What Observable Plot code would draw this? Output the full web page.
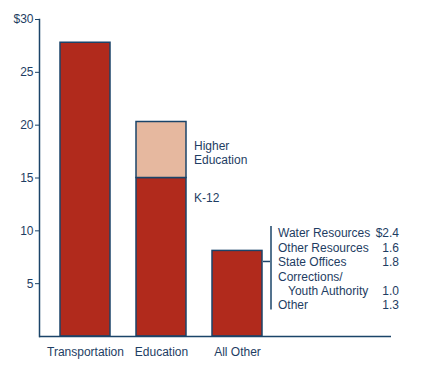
<!DOCTYPE html>
<html>
<head>
<meta charset="utf-8">
<script src="https://cdn.jsdelivr.net/npm/d3@7"></script>
<script src="https://cdn.jsdelivr.net/npm/@observablehq/plot@0.6"></script>
<style>
  body { margin: 0; background: #fff; }
  svg { font-family: Arial, "Liberation Sans", sans-serif; }
</style>
</head>
<body>
<div id="chart"></div>
<script>
// ---- data ----
const categories = ["Transportation", "Education", "All Other"];
const baseValues = [27.8, 15.0, 8.1];          // red segment
const upperValues = [0, 5.3, 0];               // Higher Education (peach)
const segmentNames = ["Base", "Higher Education"];
const yTicks = [5, 10, 15, 20, 25, 30];
const eduLabels = ["Higher\nEducation", "K-12"];
const otherNames = ["Water Resources", "Other Resources", "State Offices", "Corrections/", "\u00a0\u00a0\u00a0Youth Authority", "Other"];
const otherValues = ["$2.4", "1.6", "1.8", "", "1.0", "1.3"];

// ---- build table ----
const rows = [];
categories.forEach((c, i) => {
  rows.push({cat: c, part: segmentNames[0], value: baseValues[i]});
  if (upperValues[i] > 0) rows.push({cat: c, part: segmentNames[1], value: upperValues[i]});
});

const navy = "#1b4469";
const textColor = "#1e3d63";
const red = "#b12a1c";
const peach = "#e6b89f";

const chart = Plot.plot({
  width: 425,
  height: 369,
  marginLeft: 39,
  marginRight: 34,
  marginTop: 19,
  marginBottom: 33,
  style: {fontSize: "12px", color: textColor, fontFamily: "Arial, 'Liberation Sans', sans-serif"},
  x: {domain: categories, range: [33, 290], padding: 0.34, label: null},
  y: {domain: [0, 30], label: null},
  color: {domain: segmentNames, range: [red, peach]},
  marks: [
    Plot.barY(rows, Plot.stackY({x: "cat", y: "value", fill: "part", stroke: navy, strokeWidth: 1.5, order: segmentNames})),
    Plot.frame({anchor: "left", stroke: navy, strokeWidth: 1.5}),
    Plot.ruleY([0], {stroke: navy, strokeWidth: 1.5}),
    Plot.axisY({ticks: yTicks, tickSize: 4, tickPadding: 2, stroke: navy, fill: textColor, tickFormat: d => d === 30 ? "$30" : String(d)}),
    Plot.axisX({tickSize: 0, tickPadding: 11, fill: textColor}),
    // Education annotations
    Plot.text([eduLabels[0]], {x: () => categories[1], y: 17.4, text: d => d, textAnchor: "start", dx: 32.5, lineHeight: 1.2, fill: textColor}),
    Plot.text([eduLabels[1]], {x: () => categories[1], y: 13.05, text: d => d, textAnchor: "start", dx: 32.5, fill: textColor}),
    // All Other breakdown bracket
    Plot.ruleX([categories[2]], {x: d => d, y1: 2.5, y2: 10.4, dx: 33.5, stroke: navy, strokeWidth: 1.5}),
    Plot.tickY([categories[2]], {x: d => d, y: 7.1, insetLeft: 43, dx: 8, stroke: navy, strokeWidth: 1.5}),
    Plot.text([otherNames.join("\n")], {x: () => categories[2], y: 6.4, text: d => d, textAnchor: "start", dx: 40.5, lineHeight: 1.2, fill: textColor}),
    Plot.text([otherValues.join("\n")], {x: () => categories[2], y: 6.4, text: d => d, textAnchor: "end", dx: 161.5, lineHeight: 1.2, fill: textColor})
  ]
});
document.getElementById("chart").appendChild(chart);
</script>
</body>
</html>
